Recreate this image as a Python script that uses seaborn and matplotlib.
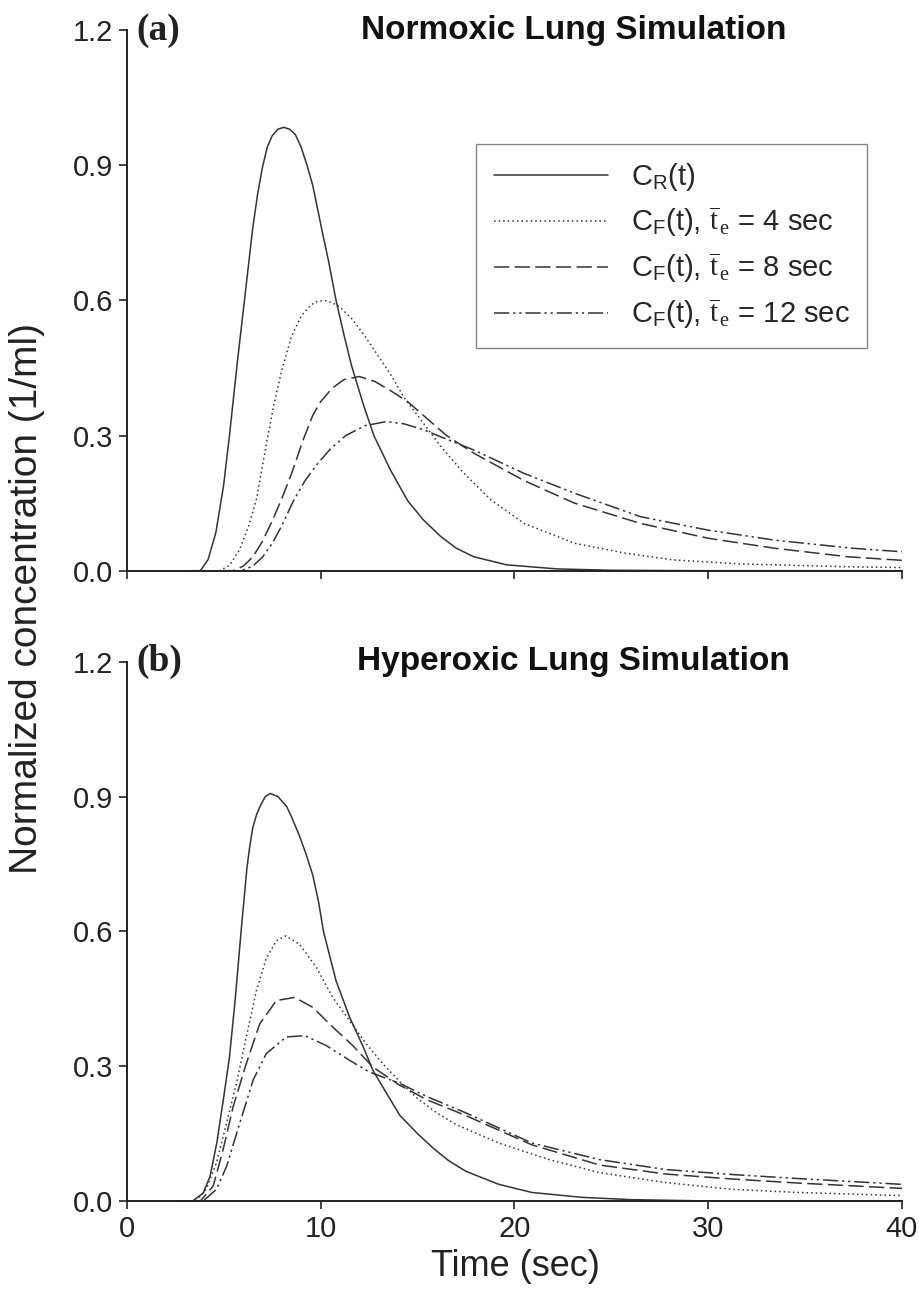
import matplotlib
matplotlib.use("Agg")
import matplotlib.pyplot as plt
import seaborn as sns

# (a) normoxic lung simulation
ta_r = [3.3, 3.8, 4.2, 4.6, 5.0, 5.3, 5.7, 6.1, 6.5, 6.75, 7.0, 7.25, 7.5, 7.8, 8.1, 8.4, 8.7, 9.0, 9.3, 9.6,
        10.1, 10.4, 10.8, 11.2, 11.6, 12.2, 12.75, 13.2, 13.6, 14.5, 15.3, 16.2, 17.0, 17.9, 19.6, 22.2, 25.0,
        30.0, 40.0]
ca_r = [0, 0, 0.025, 0.085, 0.19, 0.30, 0.46, 0.61, 0.76, 0.835, 0.895, 0.94, 0.965, 0.98, 0.984, 0.98, 0.968,
        0.94, 0.90, 0.855, 0.75, 0.69, 0.60, 0.525, 0.455, 0.37, 0.30, 0.26, 0.224, 0.155, 0.113, 0.076, 0.05,
        0.031, 0.013, 0.004, 0.001, 0.0, 0.0]
ta_4 = [4.3, 4.8, 5.3, 5.8, 6.3, 6.7, 7.2, 7.6, 8.0, 8.5, 9.0, 9.5, 9.8, 10.2, 10.6, 11.0, 11.6, 12.3, 13.0, 13.7,
        14.3, 15.0, 16.2, 17.4, 18.8, 20.5, 23.1, 25.7, 28.2, 31.7, 36.9, 40.0]
ca_4 = [0, 0, 0.012, 0.045, 0.1, 0.16, 0.28, 0.37, 0.445, 0.52, 0.565, 0.59, 0.597, 0.60, 0.595, 0.585, 0.56,
        0.52, 0.475, 0.43, 0.385, 0.345, 0.276, 0.216, 0.157, 0.105, 0.061, 0.039, 0.024, 0.015, 0.009, 0.007]
ta_8 = [4.8, 5.5, 6.0, 6.5, 7.0, 7.5, 8.0, 8.5, 9.1, 9.6, 10.0, 10.6, 11.2, 12.0, 12.8, 13.6, 14.5, 15.3, 16.5, 17.9,
        20.5, 23.1, 26.5, 30.0, 33.4, 37.2, 40.0]
ca_8 = [0, 0, 0.01, 0.03, 0.065, 0.11, 0.16, 0.215, 0.29, 0.345, 0.375, 0.405, 0.424, 0.431, 0.42, 0.40, 0.375,
        0.345, 0.30, 0.261, 0.20, 0.15, 0.105, 0.072, 0.05, 0.031, 0.023]
ta_12 = [5.0, 5.9, 6.5, 7.0, 7.5, 8.0, 8.6, 9.2, 9.8, 10.5, 11.3, 12.3, 13.4, 14.3, 15.3, 16.5, 17.9, 20.5, 23.1,
         26.5, 30.0, 33.4, 37.4, 40.0]
ca_12 = [0, 0, 0.01, 0.03, 0.06, 0.10, 0.155, 0.20, 0.235, 0.27, 0.30, 0.322, 0.331, 0.326, 0.313, 0.292, 0.268,
         0.216, 0.172, 0.12, 0.09, 0.068, 0.05, 0.042]

# (b) hyperoxic lung simulation
tb_r = [2.4, 3.4, 3.95, 4.3, 4.65, 5.0, 5.3, 5.6, 5.9, 6.2, 6.35, 6.5, 6.7, 6.9, 7.15, 7.4, 7.8, 8.25, 8.5, 8.9,
        9.25, 9.6, 9.9, 10.15, 10.8, 11.5, 12.2, 12.7, 13.4, 14.1, 15.0, 15.8, 16.6, 17.5, 19.2, 20.9, 23.5, 26.0,
        30.0, 40.0]
cb_r = [0, 0, 0.018, 0.055, 0.13, 0.23, 0.32, 0.45, 0.60, 0.74, 0.79, 0.83, 0.86, 0.88, 0.9, 0.907, 0.90, 0.878,
        0.855, 0.814, 0.772, 0.725, 0.665, 0.60, 0.49, 0.409, 0.343, 0.291, 0.24, 0.19, 0.15, 0.118, 0.09, 0.066,
        0.037, 0.019, 0.008, 0.003, 0.0, 0.0]
tb_4 = [2.4, 3.6, 4.1, 4.63, 5.15, 5.66, 6.17, 6.69, 7.2, 7.72, 8.2, 8.92, 9.78, 10.63, 11.49, 12.35, 13.2, 14.1,
        15.0, 16.0, 17.0, 19.2, 21.8, 24.4, 27.8, 31.2, 34.6, 40.0]
cb_4 = [0, 0, 0.026, 0.085, 0.173, 0.262, 0.365, 0.468, 0.54, 0.579, 0.59, 0.571, 0.52, 0.453, 0.402, 0.35, 0.306,
        0.265, 0.228, 0.196, 0.17, 0.129, 0.092, 0.063, 0.041, 0.026, 0.019, 0.012]
tb_8 = [2.4, 3.8, 4.46, 4.97, 5.49, 6.17, 6.86, 7.72, 8.66, 9.6, 10.63, 11.66, 12.7, 14.07, 15.5, 17.5, 20.9, 24.4,
        27.8, 31.2, 34.6, 40.0]
cb_8 = [0, 0, 0.033, 0.114, 0.21, 0.306, 0.394, 0.446, 0.453, 0.431, 0.387, 0.346, 0.298, 0.258, 0.225, 0.19, 0.125,
        0.08, 0.06, 0.049, 0.04, 0.028]
tb_12 = [2.4, 3.95, 4.63, 5.15, 5.83, 6.52, 7.2, 8.23, 9.18, 10.29, 11.5, 12.52, 14.07, 15.5, 17.5, 20.9, 24.4, 27.8,
         31.2, 34.6, 40.0]
cb_12 = [0, 0, 0.026, 0.077, 0.173, 0.269, 0.328, 0.365, 0.368, 0.346, 0.313, 0.287, 0.262, 0.232, 0.196, 0.129,
         0.092, 0.07, 0.059, 0.05, 0.037]

legend_labels = [
    r"C$_{\mathsf{R}}$(t)",
    r"C$_{\mathsf{F}}$(t), $\overline{\mathrm{t}}_{\,\mathrm{e}}$ = 4 sec",
    r"C$_{\mathsf{F}}$(t), $\overline{\mathrm{t}}_{\,\mathrm{e}}$ = 8 sec",
    r"C$_{\mathsf{F}}$(t), $\overline{\mathrm{t}}_{\,\mathrm{e}}$ = 12 sec",
]
y_ticks = [0.0, 0.3, 0.6, 0.9, 1.2]
x_ticks = [0, 10, 20, 30, 40]

sns.set_theme(style="ticks")
plt.rcParams["font.family"] = ["Liberation Sans", "DejaVu Sans"]
plt.rcParams["mathtext.fontset"] = "custom"
plt.rcParams["mathtext.rm"] = "Liberation Serif"
plt.rcParams["mathtext.sf"] = "Liberation Sans"
plt.rcParams["mathtext.it"] = "Liberation Serif:italic"

LINE = "#333333"
styles = ["-", (0, (1, 2)), (0, (10, 3.5)), (0, (10, 2.5, 1.5, 2.5, 1.5, 2.5))]

fig = plt.figure(figsize=(9.19, 12.95), dpi=100)
ax_a = fig.add_axes([0.1379, 0.5593, 0.8436, 0.4175])
ax_b = fig.add_axes([0.1379, 0.0726, 0.8436, 0.4164])

panels = [
    (ax_a, [(ta_r, ca_r), (ta_4, ca_4), (ta_8, ca_8), (ta_12, ca_12)], "(a)", "Normoxic Lung Simulation"),
    (ax_b, [(tb_r, cb_r), (tb_4, cb_4), (tb_8, cb_8), (tb_12, cb_12)], "(b)", "Hyperoxic Lung Simulation"),
]

for ax, series, tag, title in panels:
    for (t, c), ls in zip(series, styles):
        sns.lineplot(x=t, y=c, ax=ax, color=LINE, linestyle=ls, linewidth=1.1,
                     estimator=None, sort=False)
    ax.set_xlim(0, 40)
    ax.set_ylim(0, 1.2)
    ax.set_xticks(x_ticks)
    ax.set_yticks(y_ticks)
    ax.set_yticklabels([f"{v:.1f}" for v in y_ticks])
    ax.set(xlabel="", ylabel="")
    ax.tick_params(direction="out", length=6, width=1.2, labelsize=21, pad=4, colors="#222222")
    for sp in ["left", "bottom"]:
        ax.spines[sp].set_linewidth(1.4)
        ax.spines[sp].set_color("#222222")
    sns.despine(ax=ax)
    ax.text(0.012, 1.0, tag, transform=ax.transAxes, fontsize=27, fontweight="bold",
            family="Liberation Serif", va="center", ha="left", color="#222222")
    ax.text(0.576, 1.0, title, transform=ax.transAxes, fontsize=24, fontweight="bold",
            va="center", ha="center", color="#111111")

ax_a.set_xticklabels([])

leg = ax_a.legend(ax_a.get_lines()[:4], legend_labels, loc="upper left", bbox_to_anchor=(0.451, 0.79),
                  fontsize=21, frameon=True, fancybox=False, handlelength=3.9, handletextpad=0.8,
                  borderpad=0.6, labelspacing=0.4, borderaxespad=0)
leg.get_frame().set_edgecolor("#666666")
leg.get_frame().set_linewidth(1.0)

fig.text(0.029, 0.5375, "Normalized concentration (1/ml)", rotation=90, fontsize=28,
         va="center", ha="center", color="#222222")
fig.text(0.5604, 0.022, "Time (sec)", fontsize=26, va="center", ha="center", color="#222222")

fig.savefig("out.png", dpi=100)
